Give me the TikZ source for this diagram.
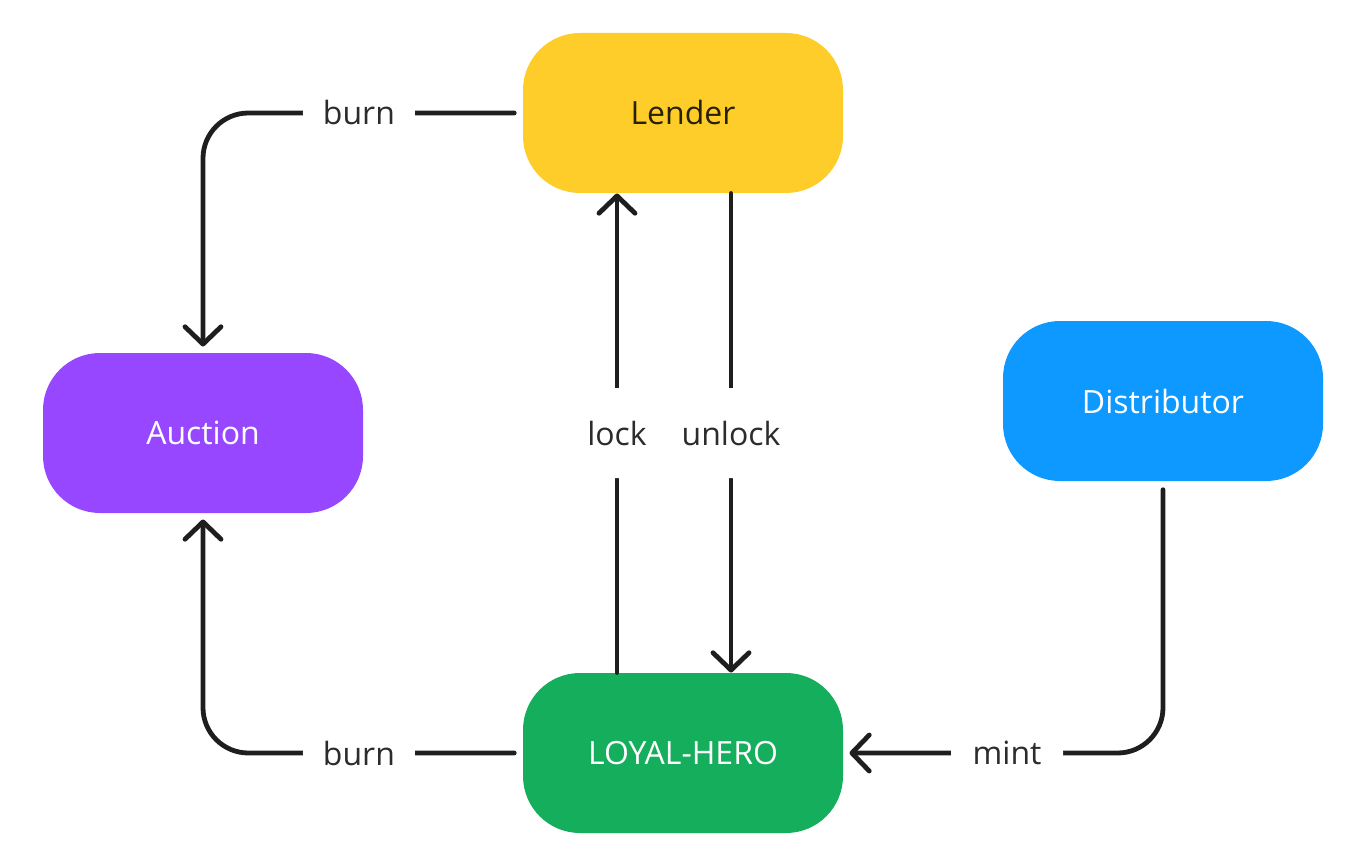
\documentclass[tikz,border=0pt]{standalone}
\usepackage{fontspec}
\setmainfont{Open Sans}
\usetikzlibrary{arrows.meta}

\definecolor{lenderyellow}{RGB}{255,205,41}
\definecolor{auctionpurple}{RGB}{151,71,255}
\definecolor{distblue}{RGB}{13,153,255}
\definecolor{herogreen}{RGB}{20,174,92}
\definecolor{inkline}{RGB}{30,30,30}
\definecolor{inktext}{RGB}{44,44,44}
\definecolor{lendertext}{RGB}{40,33,5}

\tikzset{every picture/.style={line width=0.75pt}}
\tikzset{
  box/.style={rounded corners=42.75pt, minimum width=240pt, minimum height=120pt, inner sep=0pt, text=white, font=\fontsize{24}{29}\selectfont},
  flow/.style={color=inkline, line width=3.6pt, line cap=round, rounded corners=34pt, -{Straight Barb[length=13pt,width=27pt,line cap=round,line join=round]}},
  gap/.style={shorten <=6.2pt, shorten >=4.5pt},
  lbl/.style={fill=white, text=inktext, inner sep=0pt, minimum width=84pt, minimum height=67.5pt, font=\fontsize{24}{29}\selectfont}
}

\begin{document}
\begin{tikzpicture}[x=0.75pt,y=0.75pt,yscale=-1,xscale=1]
        \useasboundingbox (0,0) rectangle (1367,866);

        %Rounded Rect: lender, auction, distributor, hero
        \node[box, fill=lenderyellow, text=lendertext] (lender) at (683,113) {Lender};
        \node[box, fill=auctionpurple] (auction) at (203,433) {Auction};
        \node[box, fill=distblue] (dist) at (1163,401) {Distributor};
        \node[box, fill=herogreen] (hero) at (683,753) {LOYAL-HERO};

        %Straight Lines: burn
        \draw[flow, gap] (lender.west) -| node[lbl, pos=0.256] {burn} (auction.north);
        \draw[flow, gap] (hero.west) -| node[lbl, pos=0.256] {burn} (auction.south);
        %Straight Lines: lock / unlock
        \draw[flow] ([xshift=-49.5pt]hero.north) -- node[lbl] {lock} ([xshift=-49.5pt]lender.south);
        \draw[flow] ([xshift=36pt]lender.south) -- node[lbl] {unlock} ([xshift=36pt]hero.north);
        %Straight Lines: mint
        \draw[flow, gap] (dist.south) |- node[lbl, pos=0.744] {mint} (hero.east);
    \end{tikzpicture}
\end{document}
